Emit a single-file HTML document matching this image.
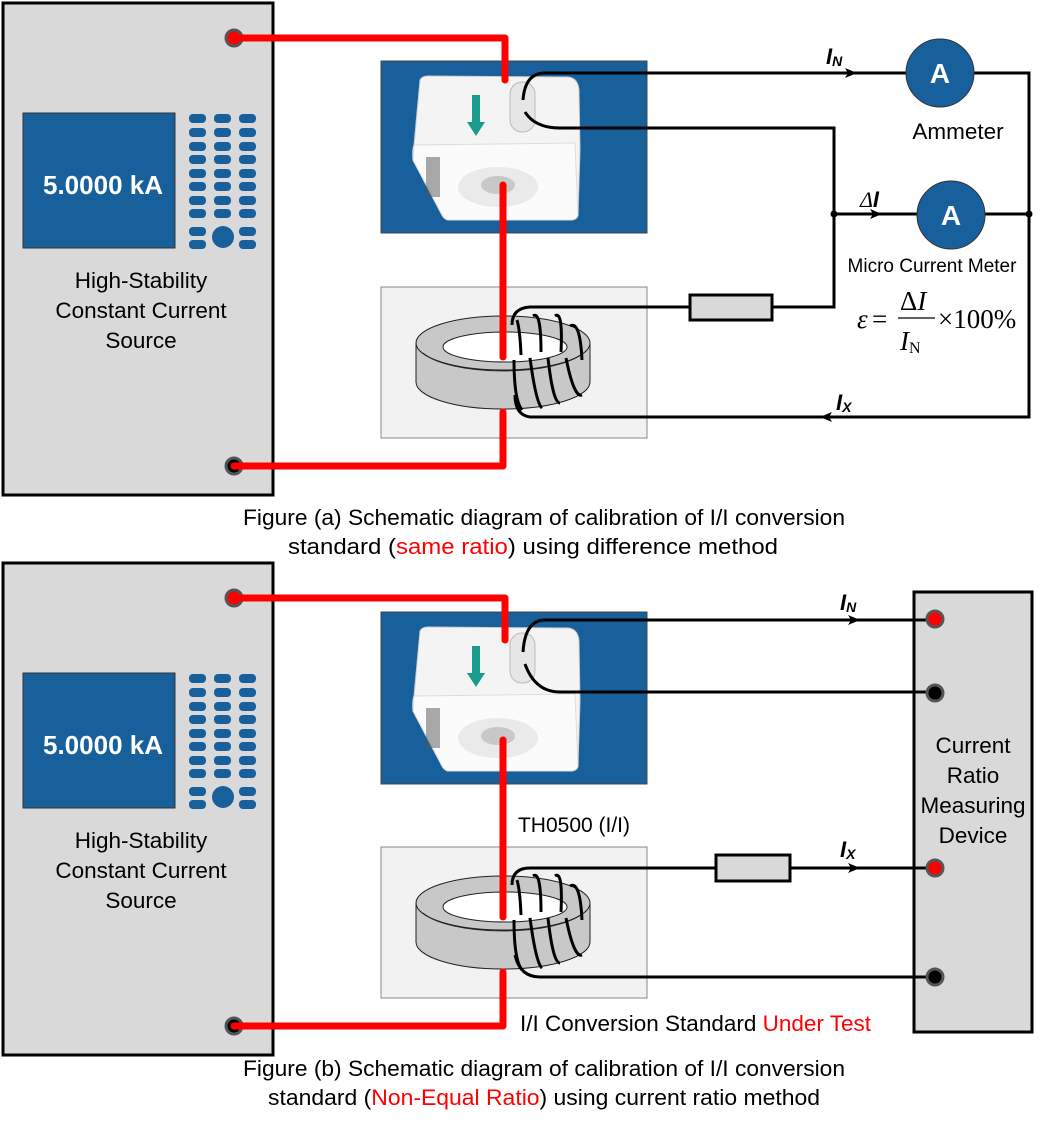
<!DOCTYPE html>
<html><head><meta charset="utf-8"><style>
html,body{margin:0;padding:0;background:#fff;}
svg{display:block;font-family:"Liberation Sans",sans-serif;}
.cap{font-size:22px;fill:#000;}
</style></head><body>
<svg width="1049" height="1129" viewBox="0 0 1049 1129" xmlns="http://www.w3.org/2000/svg">
<defs>
<marker id="ar" markerWidth="12" markerHeight="10" refX="10" refY="5" orient="auto" markerUnits="userSpaceOnUse">
<path d="M0,0 L12,5 L0,10 L3,5 Z" fill="#000"/></marker>
<g id="src">
<rect x="3" y="3" width="270" height="492" fill="#d9d9d9" stroke="#000" stroke-width="3"/>
<rect x="23" y="113" width="152" height="135" fill="#17609c" stroke="#333" stroke-width="1"/>
<text x="103" y="194" font-size="26" font-weight="bold" fill="#fff" text-anchor="middle">5.0000 kA</text>
<g fill="#17609c">
<rect x="189" y="114" width="17" height="9" rx="4"/><rect x="214" y="114" width="17" height="9" rx="4"/><rect x="239" y="114" width="17" height="9" rx="4"/>
<rect x="189" y="128" width="17" height="9" rx="4"/><rect x="214" y="128" width="17" height="9" rx="4"/><rect x="239" y="128" width="17" height="9" rx="4"/>
<rect x="189" y="142" width="17" height="9" rx="4"/><rect x="214" y="142" width="17" height="9" rx="4"/><rect x="239" y="142" width="17" height="9" rx="4"/>
<rect x="189" y="155" width="17" height="9" rx="4"/><rect x="214" y="155" width="17" height="9" rx="4"/><rect x="239" y="155" width="17" height="9" rx="4"/>
<rect x="189" y="169" width="17" height="9" rx="4"/><rect x="214" y="169" width="17" height="9" rx="4"/><rect x="239" y="169" width="17" height="9" rx="4"/>
<rect x="189" y="182" width="17" height="9" rx="4"/><rect x="214" y="182" width="17" height="9" rx="4"/><rect x="239" y="182" width="17" height="9" rx="4"/>
<rect x="189" y="196" width="17" height="9" rx="4"/><rect x="214" y="196" width="17" height="9" rx="4"/><rect x="239" y="196" width="17" height="9" rx="4"/>
<rect x="189" y="209" width="17" height="9" rx="4"/><rect x="214" y="209" width="17" height="9" rx="4"/><rect x="239" y="209" width="17" height="9" rx="4"/>
<rect x="189" y="227" width="17" height="9" rx="4"/><rect x="239" y="227" width="17" height="9" rx="4"/>
<rect x="189" y="240" width="17" height="9" rx="4"/><rect x="239" y="240" width="17" height="9" rx="4"/>
<circle cx="223" cy="237" r="11"/>
</g>
<text x="141" y="288" font-size="22.5" text-anchor="middle">High-Stability</text>
<text x="141" y="318" font-size="22.5" text-anchor="middle">Constant Current</text>
<text x="141" y="348" font-size="22.5" text-anchor="middle">Source</text>
<circle cx="234" cy="38" r="8" fill="red" stroke="#555" stroke-width="3"/>
<circle cx="234" cy="466" r="8" fill="#000" stroke="#555" stroke-width="3"/>
</g>
<g id="blue">
<rect x="381" y="61" width="266" height="172" fill="#17609c" stroke="#444" stroke-width="1"/>
<path d="M420,80 Q422,76 428,76 L568,77 Q578,78 579,90 L580,150 L578,215 Q577,220 570,220 L448,220 Q444,219 442,215 L413,160 Q412,150 414,145 Z" fill="#f4f4f4" stroke="#ccc" stroke-width="1"/>
<path d="M414,145 L575,143 L578,215 Q577,220 570,220 L448,220 Q444,219 442,215 L413,160 Z" fill="#fbfbfb" stroke="#ddd"/>
<polygon points="472,95 480,95 480,122 485,122 476,136 467,122 472,122" fill="#1a9a8a"/>
<rect x="510" y="82" width="25" height="50" rx="12" fill="#e6e6e6" stroke="#bbb"/>
<ellipse cx="498" cy="187" rx="40" ry="20" fill="#eaeaea"/>
<ellipse cx="498" cy="185" rx="17" ry="9" fill="#c8c8c8"/>
<g fill="#555"><rect x="426" y="157" width="14" height="40" opacity="0.5"/></g>
</g>
<g id="gray">
<rect x="381" y="287" width="266" height="151" fill="#f2f2f2" stroke="#888" stroke-width="1"/>
<path d="M416,343 L416,382 A87,27 0 0 0 590,382 L590,343 Z" fill="#c8c8c8" stroke="#222" stroke-width="1"/>
<ellipse cx="503" cy="343" rx="87" ry="27" fill="#c8c8c8" stroke="#222" stroke-width="1"/>
<ellipse cx="505" cy="347" rx="62" ry="15" fill="#fff" stroke="#222" stroke-width="1"/>
<path d="M423,353 A85,27 0 0 0 583,353" fill="none" stroke="#222" stroke-width="1"/>
</g>
</defs>

<!-- Panel (a) -->
<use href="#src"/>
<use href="#blue"/>
<use href="#gray"/>
<g fill="none" stroke="red" stroke-width="7" stroke-linecap="round" stroke-linejoin="round">
<polyline points="234,38 505,38 505,80"/>
<line x1="503" y1="185" x2="503" y2="357"/>
<polyline points="503,412 503,466 234,466"/>
</g>
<g fill="none" stroke="#000" stroke-width="3">
<path d="M523,100 Q525,73 545,73 L1029,73 L1029,417 L530,417 Q515,415 515,395"/>
<path d="M525,112 Q535,128 560,128 L834,128 L834,307 L772,307"/>
<rect x="690" y="295" width="82" height="25" fill="#d9d9d9"/>
<path d="M690,307 L530,307 Q512,308 512,325"/>
<line x1="834" y1="214" x2="1029" y2="214"/>
<path d="M517,320 q3,10 4,35 M533,316 q8,-6 8,36 M555,316 q8,-6 6,36 M570,326 q10,-6 12,34 M514,360 q0,40 8,50 M530,358 q6,45 12,50 M548,358 q5,45 12,45 M566,358 q8,40 16,37"/>
<line x1="840" y1="73" x2="855" y2="73" marker-end="url(#ar)"/>
<line x1="850" y1="214" x2="880" y2="214" marker-end="url(#ar)"/>
<line x1="835" y1="417" x2="822" y2="417" marker-end="url(#ar)"/>
</g>
<circle cx="834" cy="214" r="3.5"/><circle cx="1029" cy="214" r="3.5"/>
<circle cx="940" cy="73" r="34" fill="#17609c" stroke="#333"/>
<text x="940" y="83" font-size="28" font-weight="bold" fill="#fff" text-anchor="middle">A</text>
<circle cx="951" cy="215" r="34" fill="#17609c" stroke="#333"/>
<text x="951" y="225" font-size="28" font-weight="bold" fill="#fff" text-anchor="middle">A</text>
<text x="958" y="139" font-size="22.5" text-anchor="middle">Ammeter</text>
<text x="932" y="272" font-size="19" text-anchor="middle">Micro Current Meter</text>
<text x="826" y="64" font-size="22" font-weight="bold" font-style="italic">I<tspan font-size="14" dy="2">N</tspan></text>
<text x="860" y="207" font-size="22" font-style="italic" font-weight="bold"><tspan font-weight="normal" font-family="Liberation Serif">Δ</tspan>I</text>
<text x="836" y="410" font-size="22" font-weight="bold" font-style="italic">I<tspan font-size="14" dy="2">X</tspan></text>
<g font-family="Liberation Serif" font-size="27">
<text x="857" y="328" font-style="italic">ε</text><text x="872" y="328">=</text>
<text x="900" y="310">Δ<tspan font-style="italic">I</tspan></text>
<line x1="898" y1="318" x2="935" y2="318" stroke="#000" stroke-width="1.2"/>
<text x="900" y="350" font-style="italic">I<tspan font-style="normal" font-size="16" dy="3">N</tspan></text>
<text x="938" y="328">×100%</text>
</g>
<text class="cap" x="243" y="525" textLength="602" lengthAdjust="spacingAndGlyphs">Figure (a) Schematic diagram of calibration of I/I conversion</text>
<text class="cap" x="288" y="554" textLength="490" lengthAdjust="spacingAndGlyphs">standard (<tspan fill="red">same ratio</tspan>) using difference method</text>

<!-- Panel (b) -->
<g transform="translate(0,560)"><use href="#src"/></g>
<g transform="translate(0,551)"><use href="#blue"/></g>
<g transform="translate(0,560)"><use href="#gray"/></g>
<g fill="none" stroke="red" stroke-width="7" stroke-linecap="round" stroke-linejoin="round">
<polyline points="234,598 505,598 505,640"/>
<line x1="503" y1="740" x2="503" y2="917"/>
<polyline points="503,972 503,1026 234,1026"/>
</g>
<rect x="914" y="592" width="118" height="440" fill="#d9d9d9" stroke="#000" stroke-width="3"/>
<text x="973" y="753" font-size="22.5" text-anchor="middle">Current</text>
<text x="973" y="783" font-size="22.5" text-anchor="middle">Ratio</text>
<text x="973" y="813" font-size="22.5" text-anchor="middle">Measuring</text>
<text x="973" y="843" font-size="22.5" text-anchor="middle">Device</text>
<g fill="none" stroke="#000" stroke-width="3">
<path d="M523,652 Q525,620 545,620 L935,620"/>
<path d="M525,664 Q535,692 560,692 L935,692"/>
<rect x="716" y="855" width="74" height="26" fill="#d9d9d9"/>
<line x1="790" y1="868" x2="935" y2="868"/>
<path d="M716,868 L530,868 Q512,868 512,885"/>
<path d="M515,955 Q520,977 540,977 L935,977"/>
<path d="M517,880 q3,10 4,35 M533,876 q8,-6 8,36 M555,876 q8,-6 6,36 M570,886 q10,-6 12,34 M514,920 q0,40 8,50 M530,918 q6,45 12,50 M548,918 q5,45 12,45 M566,918 q8,40 16,37"/>
<line x1="840" y1="620" x2="858" y2="620" marker-end="url(#ar)"/>
<line x1="840" y1="868" x2="858" y2="868" marker-end="url(#ar)"/>
</g>
<circle cx="935" cy="619" r="8" fill="red" stroke="#555" stroke-width="3"/>
<circle cx="935" cy="693" r="8" fill="#000" stroke="#555" stroke-width="3"/>
<circle cx="935" cy="868" r="8" fill="red" stroke="#555" stroke-width="3"/>
<circle cx="935" cy="977" r="8" fill="#000" stroke="#555" stroke-width="3"/>
<text x="840" y="610" font-size="22" font-weight="bold" font-style="italic">I<tspan font-size="14" dy="2">N</tspan></text>
<text x="840" y="857" font-size="22" font-weight="bold" font-style="italic">I<tspan font-size="14" dy="2">X</tspan></text>
<text x="574" y="832" font-size="21" text-anchor="middle">TH0500 (I/I)</text>
<text x="520" y="1031" font-size="22" textLength="351" lengthAdjust="spacingAndGlyphs">I/I Conversion Standard <tspan fill="red">Under Test</tspan></text>
<text class="cap" x="243" y="1076" textLength="602" lengthAdjust="spacingAndGlyphs">Figure (b) Schematic diagram of calibration of I/I conversion</text>
<text class="cap" x="268" y="1105" textLength="552" lengthAdjust="spacingAndGlyphs">standard (<tspan fill="red">Non-Equal Ratio</tspan>) using current ratio method</text>
</svg>
</body></html>
